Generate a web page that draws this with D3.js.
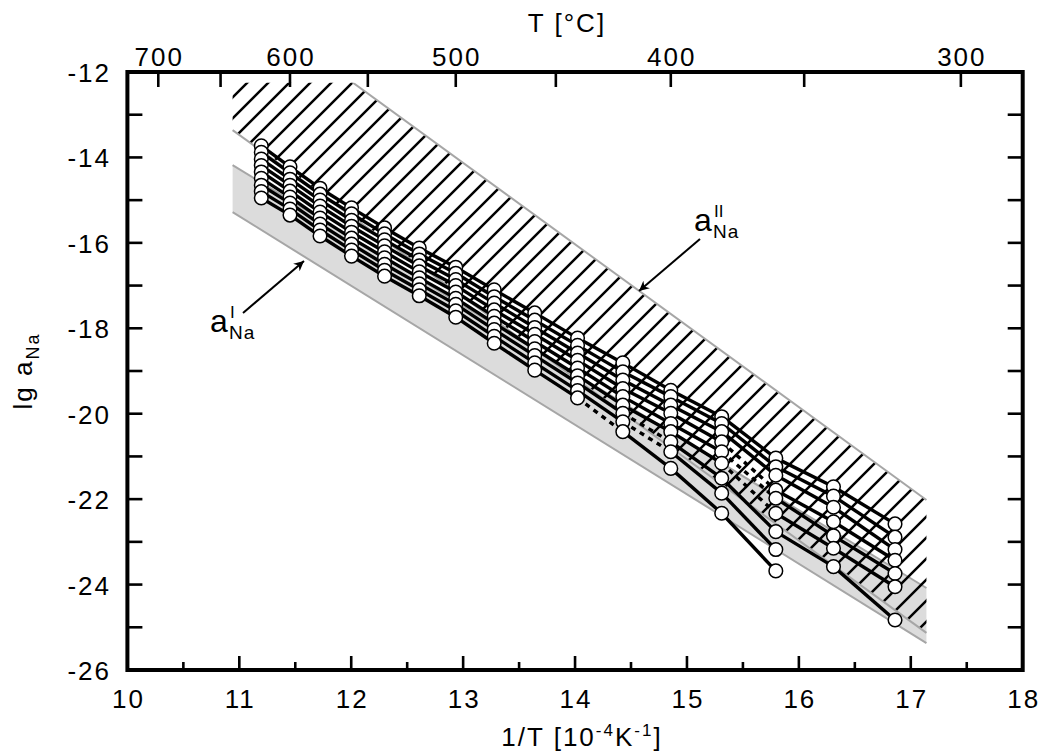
<!DOCTYPE html>
<html>
<head>
<meta charset="utf-8">
<script src="https://cdn.jsdelivr.net/npm/d3@7"></script>
<style>
  html, body { margin: 0; padding: 0; background: #fff; }
  svg { display: block; font-family: "Liberation Sans", Arial, sans-serif; }
</style>
</head>
<body>
<svg id="chart" width="1042" height="753"></svg>
<script>
// Annealing temperatures (°C) of the measured columns
const temps = [620, 600, 580, 560, 540, 520, 500, 480, 460, 440, 420, 400, 380, 360, 340, 320];

// lg a_Na for each sample series, one value per temperature (null = not measured)
const s1 = [-13.73, -14.22, -14.72, -15.18, -15.65, -16.12, -16.57, -17.10, -17.64, -18.23, -18.81, -19.45, -20.07, -21.04, -21.71, -22.58];
const s2 = [-13.88, -14.36, -14.86, -15.32, -15.79, -16.26, -16.71, -17.26, -17.81, -18.40, -19.02, -19.60, -20.23, -21.24, -21.93, -22.89];
const s3 = [-14.04, -14.51, -15.00, -15.47, -15.93, -16.40, -16.86, -17.41, -17.98, -18.58, -19.21, -19.80, -20.42, -21.44, -22.19, -23.18];
const s4 = [-14.19, -14.65, -15.14, -15.61, -16.07, -16.54, -17.00, -17.57, -18.14, -18.75, -19.41, -19.99, -20.66, -21.79, -22.53, -23.43];
const s5 = [-14.34, -14.79, -15.28, -15.75, -16.21, -16.68, -17.15, -17.72, -18.31, -18.93, -19.60, -20.23, -20.89, -21.98, -22.86, -23.74];
const s6 = [-14.49, -14.93, -15.42, -15.89, -16.35, -16.82, -17.30, -17.88, -18.48, -19.11, -19.80, -20.42, -21.16, -22.33, -23.15, -24.05];
const s7 = [-14.65, -15.07, -15.56, -16.03, -16.50, -16.96, -17.44, -18.03, -18.64, -19.28, -19.99, -20.66, -21.51, -22.76, -23.58, -24.83];
const s8 = [-14.80, -15.21, -15.70, -16.17, -16.64, -17.10, -17.59, -18.19, -18.81, -19.46, -20.19, -20.89, -21.86, -23.18, null, null];
const s9 = [-14.95, -15.35, -15.84, -16.31, -16.78, -17.24, -17.74, -18.35, -18.98, -19.63, -20.42, -21.28, -22.33, -23.68, null, null];
const series = [s1, s2, s3, s4, s5, s6, s7, s8, s9];

// Segments drawn dotted: [series index, index of the segment's first temperature]
const dottedSegments = [[8, 9], [6, 10], [7, 10], [3, 12], [4, 12], [5, 12]];

// Bottom axis ticks (1/T in 1e-4 K^-1) and labels
const xMajor = [10, 11, 12, 13, 14, 15, 16, 17, 18];
const xMinor = [10.5, 11.5, 12.5, 13.5, 14.5, 15.5, 16.5, 17.5];
// Left / right axis ticks and labels
const yTicks = [-12, -13, -14, -15, -16, -17, -18, -19, -20, -21, -22, -23, -24, -25, -26];
const yLabels = [-12, -14, -16, -18, -20, -22, -24, -26];
// Top axis, temperature in °C
const tTicks = [700, 650, 600, 550, 500, 450, 400, 350, 300];
const tLabels = [700, 600, 500, 400, 300];

// Activity bands: lower limit a^I (grey band) and upper limit a^II (hatched band)
// each given by [x, yUpper, yLower] at both ends
const bandI = [[10.94, -14.18, -15.28], [17.14, -24.08, -25.37]];
const bandII = [[10.94, -10.20, -13.36], [17.14, -22.02, -25.13]];
const bandIIClip = -12.25;

const invT = t => 1e4 / (t + 273.15);

const svg = d3.select("#chart");
const x = d3.scaleLinear().domain([10, 18]).range([127.4, 1022.7]);
const y = d3.scaleLinear().domain([-12, -26]).range([72, 670]);

const defs = svg.append("defs");

// grey band a^I
const bandPoly = b => [[x(b[0][0]), y(b[0][1])], [x(b[1][0]), y(b[1][1])], [x(b[1][0]), y(b[1][2])], [x(b[0][0]), y(b[0][2])]];
const polyI = bandPoly(bandI);
svg.append("path").attr("d", "M" + polyI.join("L") + "Z").attr("fill", "#dcdcdc");
svg.append("line").attr("x1", polyI[0][0]).attr("y1", polyI[0][1]).attr("x2", polyI[1][0]).attr("y2", polyI[1][1])
  .attr("stroke", "#a6a6a6").attr("stroke-width", 2);
svg.append("line").attr("x1", polyI[3][0]).attr("y1", polyI[3][1]).attr("x2", polyI[2][0]).attr("y2", polyI[2][1])
  .attr("stroke", "#a6a6a6").attr("stroke-width", 2);

// hatched band a^II, cut off at the top
const polyII = bandPoly(bandII);
const clipY = y(bandIIClip);
defs.append("clipPath").attr("id", "clipII")
  .append("path").attr("d", "M" + polyII.join("L") + "Z");
defs.append("clipPath").attr("id", "clipTop")
  .append("rect").attr("x", 0).attr("y", clipY).attr("width", 1042).attr("height", 753);

const hatch = svg.append("g").attr("clip-path", "url(#clipTop)")
  .append("g").attr("clip-path", "url(#clipII)");
const hatchStep = 21, hatchPhase = 330;
for (let c = hatchPhase - hatchStep * 20; c < 1800; c += hatchStep) {
  hatch.append("line").attr("x1", c - 800).attr("y1", 800).attr("x2", c).attr("y2", 0)
    .attr("stroke", "#000").attr("stroke-width", 2.5);
}
const borderII = svg.append("g").attr("clip-path", "url(#clipTop)");
borderII.append("line").attr("x1", polyII[0][0]).attr("y1", polyII[0][1]).attr("x2", polyII[1][0]).attr("y2", polyII[1][1])
  .attr("stroke", "#a6a6a6").attr("stroke-width", 2);
borderII.append("line").attr("x1", polyII[3][0]).attr("y1", polyII[3][1]).attr("x2", polyII[2][0]).attr("y2", polyII[2][1])
  .attr("stroke", "#a6a6a6").attr("stroke-width", 2);

// data lines
const isDotted = (s, i) => dottedSegments.some(d => d[0] === s && d[1] === i);
const lines = svg.append("g");
series.forEach((vals, s) => {
  for (let i = 0; i < vals.length - 1; i++) {
    if (vals[i] == null || vals[i + 1] == null) continue;
    const dotted = isDotted(s, i);
    lines.append("line")
      .attr("x1", x(invT(temps[i]))).attr("y1", y(vals[i]))
      .attr("x2", x(invT(temps[i + 1]))).attr("y2", y(vals[i + 1]))
      .attr("stroke", "#000").attr("stroke-width", 3.4)
      .attr("stroke-dasharray", dotted ? "5,5" : null);
  }
});

// data points
const pts = [];
series.forEach(vals => vals.forEach((v, i) => { if (v != null) pts.push([invT(temps[i]), v]); }));
svg.append("g").selectAll("circle").data(pts).join("circle")
  .attr("cx", d => x(d[0])).attr("cy", d => y(d[1])).attr("r", 6.8)
  .attr("fill", "#fff").attr("stroke", "#000").attr("stroke-width", 1.5);

// frame
const axisG = svg.append("g").attr("stroke", "#000");
axisG.append("rect").attr("x", x(10)).attr("y", y(-12)).attr("width", x(18) - x(10)).attr("height", y(-26) - y(-12))
  .attr("fill", "none").attr("stroke-width", 4);

// bottom ticks
xMajor.forEach(v => axisG.append("line").attr("x1", x(v)).attr("x2", x(v)).attr("y1", y(-26)).attr("y2", y(-26) - 14).attr("stroke-width", 2.6));
xMinor.forEach(v => axisG.append("line").attr("x1", x(v)).attr("x2", x(v)).attr("y1", y(-26)).attr("y2", y(-26) - 8).attr("stroke-width", 2.6));
// left and right ticks
yTicks.forEach(v => {
  axisG.append("line").attr("x1", x(10)).attr("x2", x(10) + 15).attr("y1", y(v)).attr("y2", y(v)).attr("stroke-width", 2.6);
  axisG.append("line").attr("x1", x(18)).attr("x2", x(18) - 15).attr("y1", y(v)).attr("y2", y(v)).attr("stroke-width", 2.6);
});
// top ticks
tTicks.forEach(t => axisG.append("line").attr("x1", x(invT(t))).attr("x2", x(invT(t))).attr("y1", y(-12)).attr("y2", y(-12) + 15).attr("stroke-width", 2.6));

const txt = svg.append("g").attr("fill", "#000").style("font-size", "26px").style("letter-spacing", "2px");
xMajor.forEach(v => txt.append("text").attr("x", x(v) + 1).attr("y", 708).attr("text-anchor", "middle").text(v));
yLabels.forEach(v => txt.append("text").attr("x", 111).attr("y", y(v) + 10).attr("text-anchor", "end").text(v));
tLabels.forEach(t => txt.append("text").attr("x", x(invT(t)) + 1).attr("y", 66).attr("text-anchor", "middle").text(t));

// axis titles
txt.append("text").attr("x", 567).attr("y", 32).attr("text-anchor", "middle").text("T [°C]");
const bt = txt.append("text").attr("x", 582).attr("y", 746).attr("text-anchor", "middle");
bt.append("tspan").text("1/T [10");
bt.append("tspan").attr("dy", -10).style("font-size", "17px").text("-4");
bt.append("tspan").attr("dy", 10).text("K");
bt.append("tspan").attr("dy", -10).style("font-size", "17px").text("-1");
bt.append("tspan").attr("dy", 10).text("]");

const lt = txt.append("text").attr("transform", "translate(32,371) rotate(-90)").attr("text-anchor", "middle");
lt.append("tspan").text("lg a");
lt.append("tspan").attr("dy", 7).style("font-size", "18px").text("Na");

// band labels with arrows
defs.append("marker").attr("id", "arrow").attr("viewBox", "0 0 10 10").attr("refX", 10).attr("refY", 5)
  .attr("markerWidth", 14).attr("markerHeight", 10).attr("markerUnits", "userSpaceOnUse").attr("orient", "auto")
  .append("path").attr("d", "M0,0 L10,5 L0,10 L3,5 Z").attr("fill", "#000");
svg.append("line").attr("x1", 243).attr("y1", 313).attr("x2", 304).attr("y2", 261)
  .attr("stroke", "#000").attr("stroke-width", 2).attr("marker-end", "url(#arrow)");
svg.append("line").attr("x1", 700).attr("y1", 239).attr("x2", 639).attr("y2", 291)
  .attr("stroke", "#000").attr("stroke-width", 2).attr("marker-end", "url(#arrow)");

function bandLabel(px, py, sup) {
  const g = svg.append("g").attr("fill", "#000");
  g.append("text").attr("x", px).attr("y", py).style("font-size", "32px").text("a");
  g.append("text").attr("x", px + 20).attr("y", py - 14).style("font-size", "17px").text(sup);
  g.append("text").attr("x", px + 19).attr("y", py + 7).style("font-size", "19px").style("letter-spacing", "1px").text("Na");
}
bandLabel(210, 332, "I");
bandLabel(694, 231, "II");
</script>
</body>
</html>
